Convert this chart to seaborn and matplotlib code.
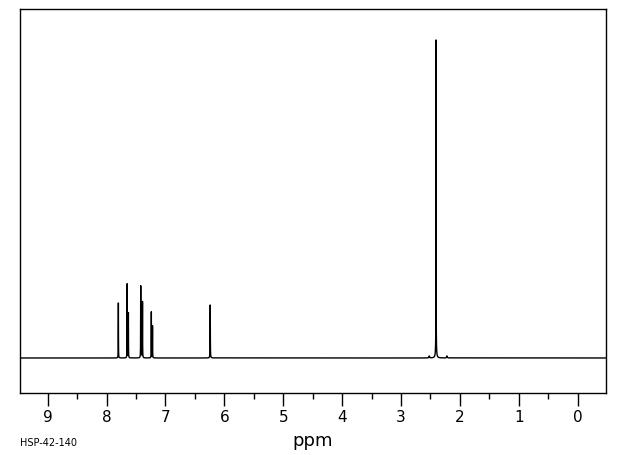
import numpy as np
import pandas as pd
import matplotlib
matplotlib.use("Agg")
import matplotlib.pyplot as plt
import seaborn as sns

# peak list (ppm, relative height, half width)
peak_ppm = [7.80, 7.65, 7.63, 7.42, 7.41, 7.39, 7.24, 7.22, 6.24, 2.405, 2.405, 2.52, 2.22]
peak_height = [55, 74, 45, 71, 52, 56, 46, 32, 53, 306, 12, 2, 2]
peak_width = [0.0015, 0.0015, 0.0015, 0.0015, 0.0015, 0.0015, 0.0015, 0.0015, 0.002,
              0.0012, 0.008, 0.006, 0.006]

x_ticks = [9, 8, 7, 6, 5, 4, 3, 2, 1, 0]

# build the spectrum as a sum of lorentzian lines, sampling each peak centre too
ppm = np.sort(np.concatenate([np.arange(-0.5, 9.5, 0.00025), peak_ppm]))
intensity = np.zeros_like(ppm)
for p, h, w in zip(peak_ppm, peak_height, peak_width):
    intensity += h * w**2 / ((ppm - p) ** 2 + w**2)
df = pd.DataFrame({"ppm": ppm, "intensity": intensity})

sns.set_style("white")
fig = plt.figure(figsize=(6.2, 4.55), dpi=100)
ax = fig.add_axes([0.0323, 0.1363, 0.945, 0.8440])

sns.lineplot(data=df, x="ppm", y="intensity", ax=ax, color="black", linewidth=1.0,
             estimator=None, sort=False)

ax.set_xlim(9.47, -0.48)
ax.set_ylim(-35, 349)
ax.set_yticks([])
ax.set_xticks(x_ticks)
ax.set_xticks(np.arange(0.5, 9.5, 1.0), minor=True)
ax.tick_params(axis="x", which="major", direction="out", length=9, width=1, color="black",
               labelsize=11, labelcolor="black", pad=3, bottom=True)
ax.tick_params(axis="x", which="minor", direction="out", length=4.5, width=1, color="black", bottom=True)
ax.set_xlabel("ppm", fontsize=13, labelpad=5, color="black")
ax.set_ylabel("")
for s in ax.spines.values():
    s.set_color("black")
    s.set_linewidth(1)

fig.text(0.032, 0.015, "HSP-42-140", fontsize=7, ha="left", va="bottom", color="black")

fig.savefig("out.png", dpi=100)
